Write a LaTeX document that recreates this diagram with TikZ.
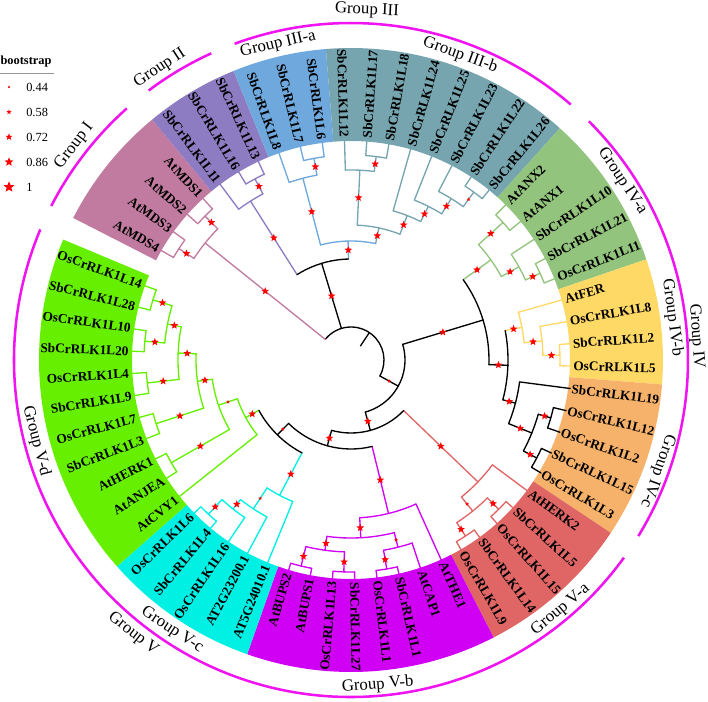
\documentclass[tikz,border=0pt]{standalone}
\usepackage{fontspec}
\setmainfont{Liberation Serif}
\usepackage{tikz}
\usetikzlibrary{shapes.geometric,calc}
\definecolor{grpline}{RGB}{240,20,240}
\definecolor{bsred}{RGB}{255,0,0}
\definecolor{rulegray}{RGB}{150,150,150}
% clade colours (bands and branches)
\definecolor{fI}{RGB}{194,123,160}
\definecolor{fII}{RGB}{142,124,195}
\definecolor{fIIIa}{RGB}{111,168,220}
\definecolor{fIIIb}{RGB}{118,165,175}
\definecolor{fIVa}{RGB}{147,196,125}
\definecolor{fIVb}{RGB}{255,217,102}
\definecolor{fIVc}{RGB}{246,178,107}
\definecolor{fVa}{RGB}{224,102,102}
\definecolor{fVb}{RGB}{208,0,245}
\definecolor{fVc}{RGB}{0,240,228}
\definecolor{fVd}{RGB}{102,240,0}
\tikzset{
  leaf/.style={font=\fontsize{10}{12}\selectfont\bfseries,inner sep=1pt},
  grp/.style={font=\fontsize{12.6}{15}\selectfont,inner sep=0pt},
  legtxt/.style={font=\fontsize{9.3}{11}\selectfont,inner sep=0pt},
  br/.style={line width=1pt,line cap=round,line join=round},
  garc/.style={draw=grpline,line width=1.9pt},
  bs/.style={star,star points=5,star point ratio=2.3,fill=bsred,draw=none,
    inner sep=0pt},
}

\begin{document}
\begin{tikzpicture}[x=0.75pt,y=0.75pt]
  \useasboundingbox (-351,-341) rectangle (357,360);
  % coloured bands behind the labels
  \foreach \xa/\xb/\cl in {-0.5/3.5/fI,3.5/6.5/fII,6.5/9.5/fIIIa,9.5/17.5/fIIIb,
      17.5/22.5/fIVa,22.5/26.5/fIVb,26.5/31.5/fIVc,31.5/36.5/fVa,
      36.5/44.5/fVb,44.5/49.5/fVc,49.5/60.5/fVd}{
    \pgfmathsetmacro\ta{150-5.83*\xa}
    \pgfmathsetmacro\tb{150-5.83*\xb}
    \fill[fill=\cl] (\ta:219) arc[start angle=\ta,end angle=\tb,radius=219]
      -- (\tb:312) arc[start angle=\tb,end angle=\ta,radius=312] -- cycle;
  }
  % root
  \pgfmathsetmacro\ta{150-5.83*16.1}
  \coordinate (root) at (\ta:33);
  \coordinate (rootend) at (\ta:17);
  \draw[br] (rootend) -- (root);
  \pgfmathsetmacro\ta{150-5.83*1.5}
  \pgfmathsetmacro\tb{150-5.83*30.69}
  \draw[br] (\ta:33) arc[start angle=\ta,end angle=\tb,radius=33];
  % internal nodes: name/pos/radius/parent radius/first/last child/colour/star
  \foreach \nm/\x/\r/\rp/\xa/\xb/\cl/\st in {
      gIa/0.5/205/187/0/1/fI/6, gIb/2.5/205/187/2/3/fI/6,
      gI/1.5/187/33/0.5/2.5/fI/6,
      gIIa/5.5/205/188/5/6/fII/6, gII/4.75/188/101/4/5.5/fII/6,
      gIIIa1/8.5/205/188/8/9/fIIIa/6, gIIIa/7.75/188/119/7/8.5/fIIIa/6,
      gIIIb1/11.5/205/190/11/12/fIIIb/6, gIIIb2/10.75/190/135/10/11.5/fIIIb/6,
      gIIIb3/16.5/208/190/16/17/fIIIb/3, gIIIb4/15.75/190/172/15/16.5/fIIIb/6,
      gIIIb5/14.875/172/155/14/15.75/fIIIb/6,
      gIIIb6/13.94/155/135/13/14.875/fIIIb/6,
      gIIIb/12.34/135/119/10.75/13.94/fIIIb/6,
      gIII/10.05/119/101/7.75/12.34/fIIIa/6,
      gIIandIII/7.4/101/33/4.75/10.05/black/6,
      gIVa1/18.5/205/172/18/19/fIVa/6, gIVa2/21.5/208/192/21/22/fIVa/6,
      gIVa3/20.75/192/172/20/21.5/fIVa/6,
      gIVa/19.625/172/138/18.5/20.75/fIVa/6,
      gIVb1/25.5/209/192/25/26/fIVb/6, gIVb2/24.75/192/174/24/25.5/fIVb/6,
      gIVb/23.875/174/157/23/24.75/fIVb/6,
      gIVc1/28.5/208/195/28/29/black/6, gIVc2/30.5/210/195/30/31/black/6,
      gIVc3/29.5/195/170/28.5/30.5/black/6, gIVc/28.25/170/157/27/29.5/black/6,
      gIVbc/26.06/157/138/23.875/28.25/black/6,
      gIV/22.84/138/54/19.625/26.06/black/6,
      gVa1/33.5/210/194/33/34/fVa/6, gVa2/35.5/210/194/35/36/fVa/6,
      gVa3/34.5/194/176/33.5/35.5/fVa/3, gVa/33.25/176/73/32/34.5/fVa/6,
      gVb1/39.5/212/193/39/40/fVb/6, gVb2/38.75/193/178/38/39.5/fVb/3,
      gVb3/41.5/212/192/41/42/fVb/6, gVb4/43.5/212/192/43/44/fVb/6,
      gVb5/42.5/192/178/41.5/43.5/fVb/6, gVb6/40.625/178/158/38.75/42.5/fVb/6,
      gVb/38.81/158/89/37/40.625/fVb/6,
      gVc1/48.5/210/190/48/49/fVc/6, gVc2/47.75/190/178/47/48.5/fVc/6,
      gVc3/46.875/178/153/46/47.75/fVc/3, gVc/45.94/153/105/45/46.875/fVc/6,
      gVd1/59.5/207/187/59/60/fVd/6, gVd2/57.5/207/187/57/58/fVd/6,
      gVd3/58.5/187/173/57.5/59.5/fVd/6, gVd4/55.5/205/173/55/56/fVd/6,
      gVd5/57/173/155/55.5/58.5/fVd/6, gVd6/53.5/205/155/53/54/fVd/6,
      gVd7/55.25/155/140/53.5/57/fVd/6, gVd8/51.5/207/140/51/52/fVd/6,
      gVd9/53.375/140/120/51.5/55.25/fVd/3, gVd/51.69/120/105/50/53.375/fVd/6,
      gVcd/48.81/105/89/45.94/51.69/black/3,
      gVbcd/43.81/89/73/38.81/48.81/black/6,
      gV/38.53/73/54/33.25/43.81/black/6,
      gIVV/30.69/54/33/22.84/38.53/black/3}{
    \pgfmathsetmacro\ang{150-5.83*\x}
    \pgfmathsetmacro\ta{150-5.83*\xa}
    \pgfmathsetmacro\tb{150-5.83*\xb}
    \coordinate (n\nm) at (\ang:\r);
    \coordinate (b\nm) at (\ang:\rp);
    \draw[br,draw=\cl] (\ta:\r) arc[start angle=\ta,end angle=\tb,radius=\r];
    \draw[br,draw=\cl] (b\nm) -- (n\nm);
    \node[bs,minimum size=\st pt] (s\nm) at ($(b\nm)!0.5!(n\nm)$) {};
  }
  % leaves: index/name/parent radius/colour
  \foreach \i/\nm/\rp/\cl in {
      0/AtMDS4/205/fI, 1/AtMDS3/205/fI, 2/AtMDS2/205/fI, 3/AtMDS1/205/fI,
      4/SbCrRLK1L11/188/fII, 5/SbCrRLK1L16/205/fII, 6/SbCrRLK1L13/205/fII,
      7/SbCrRLK1L8/188/fIIIa, 8/SbCrRLK1L7/205/fIIIa, 9/SbCrRLK1L6/205/fIIIa,
      10/SbCrRLK1L12/190/fIIIb, 11/SbCrRLK1L17/205/fIIIb,
      12/SbCrRLK1L18/205/fIIIb, 13/SbCrRLK1L24/155/fIIIb,
      14/SbCrRLK1L25/172/fIIIb, 15/SbCrRLK1L23/190/fIIIb,
      16/SbCrRLK1L22/208/fIIIb, 17/SbCrRLK1L26/208/fIIIb,
      18/AtANX2/205/fIVa, 19/AtANX1/205/fIVa, 20/SbCrRLK1L10/192/fIVa,
      21/SbCrRLK1L21/208/fIVa, 22/OsCrRLK1L11/208/fIVa,
      23/AtFER/174/fIVb, 24/OsCrRLK1L8/192/fIVb, 25/SbCrRLK1L2/209/fIVb,
      26/OsCrRLK1L5/209/fIVb,
      27/SbCrRLK1L19/170/black, 28/OsCrRLK1L12/208/black,
      29/OsCrRLK1L2/208/black, 30/SbCrRLK1L15/210/black,
      31/OsCrRLK1L3/210/black,
      32/AtHERK2/176/fVa, 33/SbCrRLK1L5/210/fVa, 34/OsCrRLK1L15/210/fVa,
      35/SbCrRLK1L14/210/fVa, 36/OsCrRLK1L9/210/fVa,
      37/AtTHE1/158/fVb, 38/AtCAP1/193/fVb, 39/SbCrRLK1L1/212/fVb,
      40/OsCrRLK1L1/212/fVb, 41/SbCrRLK1L27/212/fVb, 42/OsCrRLK1L13/212/fVb,
      43/AtBUPS1/212/fVb, 44/AtBUPS2/212/fVb,
      45/AT5G24010.1/153/fVc, 46/AT2G23200.1/178/fVc, 47/OsCrRLK1L16/190/fVc,
      48/SbCrRLK1L4/210/fVc, 49/OsCrRLK1L6/210/fVc,
      50/AtCVY1/120/fVd, 51/AtANJEA/207/fVd, 52/AtHERK1/207/fVd,
      53/SbCrRLK1L3/205/fVd, 54/OsCrRLK1L7/205/fVd, 55/SbCrRLK1L9/205/fVd,
      56/OsCrRLK1L4/205/fVd, 57/SbCrRLK1L20/207/fVd, 58/OsCrRLK1L10/207/fVd,
      59/SbCrRLK1L28/207/fVd, 60/OsCrRLK1L14/207/fVd}{
    \pgfmathsetmacro\ang{150-5.83*\i}
    \pgfmathsetmacro\flip{cos(\ang)<0}
    \pgfmathsetmacro\rot{\ang+180}
    \ifdim\flip pt>0.5pt
      \node[leaf,anchor=east,rotate=\rot] (t\i) at (\ang:221) {\nm};
    \else
      \node[leaf,anchor=west,rotate=\ang] (t\i) at (\ang:221) {\nm};
    \fi
    \coordinate (p\i) at (\ang:\rp);
    \draw[br,draw=\cl] (p\i) -- (t\i);
  }
  % group arcs
  \draw[garc] (152.8:337) arc[start angle=152.8,end angle=131.7,radius=337];
  \draw[garc] (126.9:337) arc[start angle=126.9,end angle=114.5,radius=337];
  \draw[garc] (110.2:337) arc[start angle=110.2,end angle=49.3,radius=337];
  \draw[garc] (45.1:337) arc[start angle=45.1,end angle=-31.5,radius=337];
  \draw[garc] (-35.9:337) arc[start angle=-35.9,end angle=-202.8,radius=337];
  % group labels
  \node[grp,rotate=52.3] (gpI) at (142.3:350) {Group I};
  \node[grp,rotate=33.2] (gpII) at (123.2:349) {Group II};
  \node[grp,rotate=-2.6] (gpIII) at (87.4:350) {Group III};
  \node[grp,rotate=-86.1] (gpIV) at (3.9:346) {Group IV};
  \node[grp,rotate=-38.5] (gpV) at (-128.5:350) {Group V};
  \node[grp,rotate=13] (gpIIIa) at (103:324) {Group III-a};
  \node[grp,rotate=-19.7] (gpIIIb) at (70.3:324) {Group III-b};
  \node[grp,rotate=-56.6] (gpIVa) at (33.4:325) {Group IV-a};
  \node[grp,rotate=-82.5] (gpIVb) at (7.5:324) {Group IV-b};
  \node[grp,rotate=-109.9] (gpIVc) at (-19.9:326) {Group IV-c};
  \node[grp,rotate=40] (gpVa) at (-50:326) {Group V-a};
  \node[grp,rotate=4.7] (gpVb) at (-85.3:326) {Group V-b};
  \node[grp,rotate=-33.5] (gpVc) at (-123.5:324) {Group V-c};
  \node[grp,rotate=-75.6] (gpVd) at (-165.6:325) {Group V-d};
  % legend
  \node[legtxt,font=\fontsize{9.3}{11}\selectfont\bfseries] (bhead) at (-325,298) {bootstrap};
  \coordinate (rulel) at (-351,287);
  \coordinate (ruler) at (-297,287);
  \draw[rulegray,line width=0.6pt] (rulel) -- (ruler);
  \foreach \k/\v/\sz in {0/0.44/2.2,1/0.58/4,2/0.72/5.4,3/0.86/7,4/1/8.6}{
    \node[bs,minimum size=\sz pt] (ls\k) at (-342,273-25*\k) {};
    \node[legtxt,anchor=west] (lv\k) at (-325,273-25*\k) {\v};
  }
\end{tikzpicture}
\end{document}
